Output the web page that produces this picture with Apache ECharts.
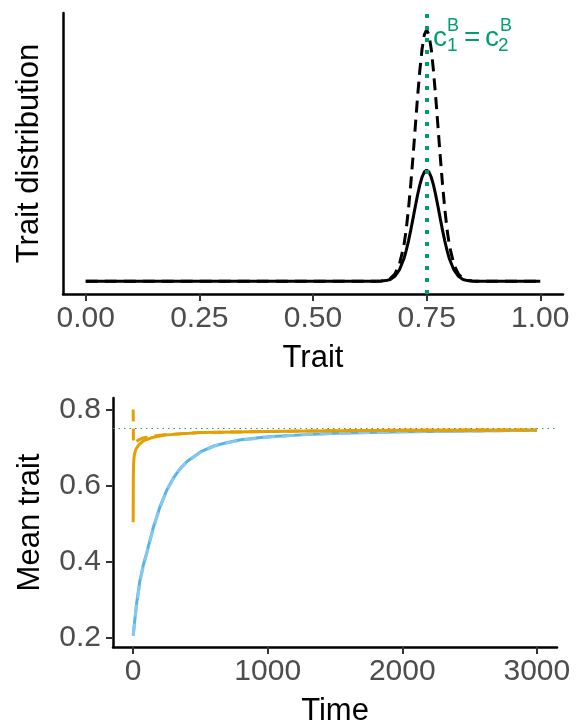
<!DOCTYPE html>
<html>
<head>
<meta charset="utf-8">
<script src="https://cdn.jsdelivr.net/npm/echarts@6/dist/echarts.min.js"></script>
<style>
html,body{margin:0;padding:0;background:#fff;}
#chart{width:580px;height:725px;}
</style>
</head>
<body>
<div id="chart"></div>
<script>
// ---- Top panel: trait distribution ----
var traitX = [0, 0.63, 0.64, 0.65, 0.66, 0.67, 0.68, 0.69, 0.70, 0.705, 0.71, 0.715, 0.72, 0.725, 0.73, 0.735, 0.74, 0.745, 0.75, 0.755, 0.76, 0.765, 0.77, 0.775, 0.78, 0.785, 0.79, 0.795, 0.80, 0.81, 0.82, 0.83, 0.84, 0.85, 0.86, 0.87, 1.0];
var distDashed = [0, 0, 0, 0.001, 0.003, 0.010, 0.028, 0.065, 0.140, 0.202, 0.282, 0.378, 0.487, 0.604, 0.720, 0.825, 0.910, 0.965, 0.984, 0.965, 0.910, 0.825, 0.720, 0.604, 0.487, 0.378, 0.282, 0.202, 0.140, 0.065, 0.028, 0.010, 0.003, 0.001, 0, 0, 0];
var distSolid = [0, 0, 0, 0.001, 0.0025, 0.007, 0.019, 0.044, 0.088, 0.120, 0.157, 0.199, 0.245, 0.292, 0.337, 0.377, 0.408, 0.428, 0.435, 0.428, 0.408, 0.377, 0.337, 0.292, 0.245, 0.199, 0.157, 0.120, 0.088, 0.044, 0.019, 0.007, 0.0025, 0.001, 0, 0, 0];
var traitTicks = [0, 0.25, 0.5, 0.75, 1.0];
var optimumTrait = 0.75;

// ---- Bottom panel: mean trait over time ----
var blueTime = [0, 25, 50, 75, 100, 150, 200, 250, 300, 350, 400, 500, 600, 700, 800, 1000, 1250, 1500, 2000, 2500, 3000];
var blueSolid = [0.205, 0.289, 0.35, 0.39, 0.422, 0.49, 0.545, 0.588, 0.62, 0.645, 0.663, 0.688, 0.704, 0.713, 0.72, 0.728, 0.733, 0.737, 0.741, 0.743, 0.745];
var blueDashed = [0.205, 0.284, 0.345, 0.387, 0.42, 0.487, 0.543, 0.586, 0.619, 0.644, 0.662, 0.687, 0.703, 0.712, 0.719, 0.727, 0.733, 0.737, 0.741, 0.743, 0.745];
var orangeSolidTime = [0, 1, 3, 6, 10, 20, 40, 75, 150, 250, 500, 1000, 1500, 2000, 3000];
var orangeSolid = [0.503, 0.62, 0.655, 0.672, 0.683, 0.695, 0.706, 0.717, 0.727, 0.733, 0.739, 0.742, 0.744, 0.745, 0.746];
var orangeDashedTime = [0, 2, 5, 10, 20, 40, 75, 150, 250, 500, 1000, 1500, 2000, 3000];
var orangeDashed = [0.80, 0.71, 0.709, 0.711, 0.714, 0.72, 0.725, 0.73, 0.734, 0.739, 0.742, 0.744, 0.745, 0.746];
var timeTicks = [0, 1000, 2000, 3000];
var meanTicks = [0.2, 0.4, 0.6, 0.8];
var optimumMean = 0.75;

function pairs(xs, ys) { return xs.map(function (x, i) { return [x, ys[i]]; }); }

var FONT = "'Liberation Sans', Arial, Helvetica, sans-serif";
var GREEN = '#009E73', ORANGE = '#E69F00', BLUE = '#56B4E9';
var axisLine = { show: true, onZero: false, lineStyle: { color: '#000', width: 2.5 } };
var tick = { show: true, length: 7, lineStyle: { color: '#333', width: 2 } };
var labelStyle = { fontFamily: FONT, fontSize: 30, color: '#4d4d4d' };
var nameStyle = { fontFamily: FONT, fontSize: 31, color: '#000' };

var chart = echarts.init(document.getElementById('chart'), null, { renderer: 'canvas' });

var option = {
  animation: false,
  backgroundColor: '#fff',
  grid: [
    { left: 63, right: 17, top: 13, bottom: 431, containLabel: false, outerBoundsMode: 'none' },
    { left: 113, right: 23, top: 398, bottom: 78, containLabel: false, outerBoundsMode: 'none' }
  ],
  xAxis: [
    {
      type: 'value', gridIndex: 0, min: -0.05, max: 1.05,
      axisLine: axisLine,
      axisTick: Object.assign({ customValues: traitTicks }, tick),
      axisLabel: Object.assign({ customValues: traitTicks, margin: 10, formatter: function (v) { return v.toFixed(2); } }, labelStyle),
      splitLine: { show: false },
      name: 'Trait', nameLocation: 'middle', nameGap: 49, nameTextStyle: nameStyle
    },
    {
      type: 'value', gridIndex: 1, min: -150, max: 3150,
      axisLine: axisLine,
      axisTick: Object.assign({ customValues: timeTicks }, tick),
      axisLabel: Object.assign({ customValues: timeTicks, margin: 10, formatter: function (v) { return String(v); } }, labelStyle),
      splitLine: { show: false },
      name: 'Time', nameLocation: 'middle', nameGap: 49, nameTextStyle: nameStyle
    }
  ],
  yAxis: [
    {
      type: 'value', gridIndex: 0, min: -0.05, max: 1.05,
      axisLine: axisLine,
      axisTick: { show: false },
      axisLabel: { show: false },
      splitLine: { show: false },
      name: 'Trait distribution', nameLocation: 'middle', nameGap: 18, nameRotate: 90, nameTextStyle: nameStyle
    },
    {
      type: 'value', gridIndex: 1, min: 0.175, max: 0.83,
      axisLine: axisLine,
      axisTick: Object.assign({ customValues: meanTicks }, tick),
      axisLabel: Object.assign({ customValues: meanTicks, margin: 12, formatter: function (v) { return v.toFixed(1); } }, labelStyle),
      splitLine: { show: false },
      name: 'Mean trait', nameLocation: 'middle', nameGap: 67, nameRotate: 90, nameTextStyle: nameStyle
    }
  ],
  series: [
    { type: 'line', xAxisIndex: 0, yAxisIndex: 0, data: pairs(traitX, distSolid), showSymbol: false, z: 2,
      lineStyle: { color: '#000', width: 3 } },
    { type: 'line', xAxisIndex: 0, yAxisIndex: 0, data: pairs(traitX, distDashed), showSymbol: false, z: 3,
      lineStyle: { color: '#000', width: 3, type: [12, 7] } },
    { type: 'line', xAxisIndex: 0, yAxisIndex: 0, data: [], z: 5,
      markLine: { silent: true, symbol: 'none', animation: false, label: { show: false },
        lineStyle: { color: GREEN, width: 4, type: [4, 8], cap: 'butt' },
        data: [{ xAxis: optimumTrait }] } },

    { type: 'line', xAxisIndex: 1, yAxisIndex: 1, data: [], z: 1,
      markLine: { silent: true, symbol: 'none', animation: false, label: { show: false },
        lineStyle: { color: '#3a8f74', width: 1.2, type: [1.5, 4] },
        data: [{ yAxis: optimumMean }] } },
    { type: 'line', xAxisIndex: 1, yAxisIndex: 1, data: pairs(blueTime, blueSolid), showSymbol: false, z: 2,
      lineStyle: { color: BLUE, width: 3 } },
    { type: 'line', xAxisIndex: 1, yAxisIndex: 1, data: pairs(blueTime, blueDashed), showSymbol: false, z: 3,
      lineStyle: { color: '#86c9ef', width: 3, type: [12, 7] } },
    { type: 'line', xAxisIndex: 1, yAxisIndex: 1, data: pairs(orangeSolidTime, orangeSolid), showSymbol: false, z: 4,
      lineStyle: { color: ORANGE, width: 3 } },
    { type: 'line', xAxisIndex: 1, yAxisIndex: 1, data: pairs(orangeDashedTime, orangeDashed), showSymbol: false, z: 5,
      lineStyle: { color: ORANGE, width: 3, type: [12, 7] } }
  ],
  graphic: [
    { type: 'text', left: 433, top: 24, z: 10, style: { text: 'c', fill: GREEN, font: '28px ' + FONT } },
    { type: 'text', left: 447, top: 17, z: 10, style: { text: 'B', fill: GREEN, font: '18px ' + FONT } },
    { type: 'text', left: 447, top: 36, z: 10, style: { text: '1', fill: GREEN, font: '19px ' + FONT } },
    { type: 'text', left: 464, top: 24, z: 10, style: { text: '=', fill: GREEN, font: '28px ' + FONT } },
    { type: 'text', left: 485, top: 24, z: 10, style: { text: 'c', fill: GREEN, font: '28px ' + FONT } },
    { type: 'text', left: 500, top: 17, z: 10, style: { text: 'B', fill: GREEN, font: '18px ' + FONT } },
    { type: 'text', left: 498, top: 36, z: 10, style: { text: '2', fill: GREEN, font: '19px ' + FONT } }
  ]
};
chart.setOption(option);
</script>
</body>
</html>
